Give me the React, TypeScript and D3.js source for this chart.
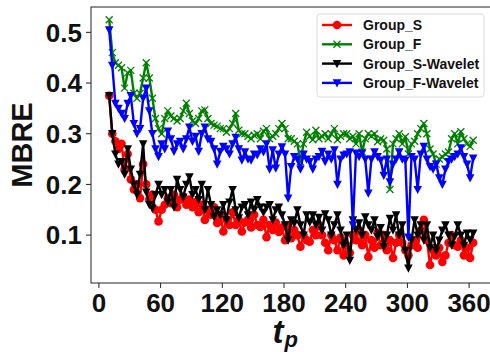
import * as d3 from 'd3';

// sampling grid of t_p (every 3 steps from 10)
const tp = d3.range(10, 365, 3);

const groupS = [
  0.375, 0.30, 0.285, 0.27, 0.28, 0.23, 0.26, 0.21, 0.19, 0.20,
  0.173, 0.24, 0.20, 0.17, 0.18, 0.15, 0.127, 0.15, 0.16, 0.173,
  0.163, 0.18, 0.155, 0.17, 0.175, 0.16, 0.17, 0.155, 0.165, 0.145,
  0.16, 0.13, 0.15, 0.14, 0.155, 0.124, 0.14, 0.107, 0.13, 0.12,
  0.145, 0.12, 0.13, 0.107, 0.125, 0.13, 0.115, 0.14, 0.12, 0.116,
  0.13, 0.096, 0.12, 0.11, 0.125, 0.106, 0.115, 0.09, 0.12, 0.094,
  0.11, 0.10, 0.077, 0.10, 0.09, 0.087, 0.11, 0.10, 0.12, 0.10,
  0.085, 0.07, 0.10, 0.09, 0.07, 0.095, 0.06, 0.08, 0.065, 0.10,
  0.09, 0.11, 0.08, 0.10, 0.057, 0.09, 0.075, 0.105, 0.08, 0.10,
  0.07, 0.09, 0.055, 0.085, 0.10, 0.085, 0.07, 0.06, 0.08, 0.09,
  0.075, 0.11, 0.13, 0.09, 0.041, 0.07, 0.06, 0.075, 0.047, 0.06,
  0.085, 0.10, 0.08, 0.077, 0.09, 0.06, 0.075, 0.055, 0.085,
];

const groupF = [
  0.525, 0.46, 0.44, 0.435, 0.43, 0.39, 0.42, 0.425, 0.38, 0.37,
  0.38, 0.41, 0.44, 0.41, 0.37, 0.33, 0.31, 0.30, 0.33, 0.345,
  0.335, 0.33, 0.325, 0.33, 0.345, 0.36, 0.34, 0.325, 0.32, 0.33,
  0.345, 0.347, 0.33, 0.32, 0.317, 0.315, 0.31, 0.31, 0.303, 0.31,
  0.32, 0.34, 0.307, 0.30, 0.30, 0.295, 0.29, 0.297, 0.30, 0.29,
  0.305, 0.31, 0.29, 0.295, 0.30, 0.31, 0.32, 0.31, 0.29, 0.29,
  0.285, 0.28, 0.245, 0.28, 0.303, 0.295, 0.288, 0.307, 0.29, 0.295,
  0.30, 0.29, 0.30, 0.31, 0.288, 0.295, 0.30, 0.30, 0.29, 0.295,
  0.28, 0.30, 0.264, 0.29, 0.30, 0.295, 0.30, 0.284, 0.29, 0.287,
  0.27, 0.19, 0.28, 0.29, 0.30, 0.28, 0.294, 0.26, 0.28, 0.285,
  0.30, 0.31, 0.32, 0.30, 0.27, 0.26, 0.24, 0.25, 0.254, 0.26,
  0.264, 0.29, 0.30, 0.28, 0.304, 0.29, 0.28, 0.275, 0.287,
];

const groupSWavelet = [
  0.375, 0.30, 0.26, 0.24, 0.245, 0.22, 0.27, 0.23, 0.20, 0.18,
  0.22, 0.28, 0.185, 0.16, 0.153, 0.18, 0.20, 0.18, 0.19, 0.165,
  0.19, 0.155, 0.21, 0.19, 0.175, 0.20, 0.215, 0.18, 0.19, 0.17,
  0.20, 0.15, 0.19, 0.16, 0.136, 0.15, 0.14, 0.16, 0.13, 0.165,
  0.19, 0.15, 0.134, 0.155, 0.16, 0.14, 0.165, 0.15, 0.17, 0.155,
  0.145, 0.155, 0.16, 0.13, 0.15, 0.155, 0.14, 0.12, 0.09, 0.13,
  0.123, 0.15, 0.12, 0.10, 0.14, 0.125, 0.14, 0.12, 0.135, 0.11,
  0.142, 0.13, 0.10, 0.12, 0.14, 0.11, 0.08, 0.10, 0.05, 0.13,
  0.11, 0.124, 0.10, 0.136, 0.12, 0.11, 0.13, 0.097, 0.115, 0.077,
  0.10, 0.133, 0.11, 0.14, 0.10, 0.12, 0.07, 0.035, 0.09, 0.13,
  0.10, 0.12, 0.09, 0.12, 0.075, 0.10, 0.07, 0.09, 0.11, 0.12,
  0.10, 0.08, 0.097, 0.12, 0.10, 0.08, 0.104, 0.09, 0.104,
];

const groupFWavelet = [
  0.505, 0.435, 0.36, 0.35, 0.34, 0.33, 0.36, 0.375, 0.32, 0.30,
  0.31, 0.37, 0.39, 0.345, 0.30, 0.27, 0.255, 0.28, 0.27, 0.305,
  0.29, 0.265, 0.28, 0.285, 0.27, 0.29, 0.313, 0.285, 0.295, 0.265,
  0.30, 0.313, 0.29, 0.285, 0.27, 0.24, 0.265, 0.275, 0.27, 0.26,
  0.28, 0.293, 0.27, 0.248, 0.264, 0.25, 0.248, 0.26, 0.258, 0.27,
  0.264, 0.28, 0.23, 0.268, 0.232, 0.26, 0.274, 0.26, 0.173, 0.235,
  0.255, 0.25, 0.23, 0.26, 0.25, 0.245, 0.23, 0.25, 0.255, 0.265,
  0.245, 0.26, 0.25, 0.268, 0.20, 0.25, 0.258, 0.26, 0.264, 0.12,
  0.262, 0.255, 0.262, 0.25, 0.183, 0.25, 0.264, 0.255, 0.248, 0.218,
  0.25, 0.205, 0.24, 0.25, 0.264, 0.25, 0.248, 0.096, 0.255, 0.25,
  0.19, 0.26, 0.275, 0.25, 0.235, 0.23, 0.24, 0.213, 0.20, 0.23,
  0.245, 0.25, 0.255, 0.26, 0.272, 0.255, 0.24, 0.213, 0.252,
];

const xTicks = [0, 60, 120, 180, 240, 300, 360];
const yTicks = [0.1, 0.2, 0.3, 0.4, 0.5];

const series = [
  { name: 'Group_S', values: groupS, color: 'red', marker: 'circle' },
  { name: 'Group_F', values: groupF, color: 'green', marker: 'x' },
  { name: 'Group_S-Wavelet', values: groupSWavelet, color: 'black', marker: 'tri' },
  { name: 'Group_F-Wavelet', values: groupFWavelet, color: 'blue', marker: 'tri' },
];

const W = 490;
const H = 352;
const left = 91;
const right = 491.4;
const top = 7;
const bottom = 283;
const font = 'Liberation Sans, Arial, sans-serif';

function Marker({ type, x, y, color }: { type: string; x: number; y: number; color: string }) {
  if (type === 'circle') return <circle cx={x} cy={y} r={4.3} fill={color} />;
  if (type === 'x')
    return (
      <path
        d={`M${x - 3.5},${y - 3.5}L${x + 3.5},${y + 3.5}M${x - 3.5},${y + 3.5}L${x + 3.5},${y - 3.5}`}
        stroke={color}
        strokeWidth={1.3}
        fill="none"
      />
    );
  return <path d={`M${x - 4.3},${y - 3.6}L${x + 4.3},${y - 3.6}L${x},${y + 4.6}Z`} fill={color} />;
}

export default function App() {
  const x = d3.scaleLinear().domain([-7.7, 381.7]).range([left, right]);
  const y = d3.scaleLinear().domain([0.0055, 0.55]).range([bottom, top]);
  const line = d3
    .line<number>()
    .x((_, i) => x(tp[i]))
    .y((d) => y(d));

  const legendX = 317;
  const legendY = 14;

  return (
    <svg
      width={W}
      height={H}
      style={{ position: 'absolute', left: 0, top: 0, background: '#fff' }}
      fontFamily={font}
    >
      <rect x={0} y={0} width={W} height={H} fill="#fff" />
      {series.map((s) => (
        <g key={s.name}>
          <path d={line(s.values) || ''} fill="none" stroke={s.color} strokeWidth={2.4} strokeLinejoin="round" />
          {s.values.map((v, i) => (
            <Marker key={i} type={s.marker} x={x(tp[i])} y={y(v)} color={s.color} />
          ))}
        </g>
      ))}

      {/* axes frame */}
      <rect x={left} y={top} width={right - left} height={bottom - top} fill="none" stroke="#222" strokeWidth={1} />

      {xTicks.map((t) => (
        <g key={t} transform={`translate(${x(t)},${bottom})`}>
          <line y1={0} y2={5} stroke="#222" />
          <text y={28.5} textAnchor="middle" fontSize={26} fontWeight="bold" fill="#111">
            {t}
          </text>
        </g>
      ))}
      {yTicks.map((t) => (
        <g key={t} transform={`translate(${left},${y(t)})`}>
          <line x1={0} x2={-5} stroke="#222" />
          <text x={-9} dy="0.36em" textAnchor="end" fontSize={26} fontWeight="bold" fill="#111">
            {t.toFixed(1)}
          </text>
        </g>
      ))}

      <text
        transform={`translate(32,${(top + bottom) / 2}) rotate(-90)`}
        textAnchor="middle"
        fontSize={29}
        fontWeight="bold"
        fill="#111"
      >
        MBRE
      </text>
      <text x={(left + right) / 2 - 6} y={343} textAnchor="middle" fontWeight="bold" fontStyle="italic" fill="#111">
        <tspan fontSize={33}>t</tspan>
        <tspan fontSize={22} dx={1} dy={4}>p</tspan>
      </text>

      {/* legend */}
      <rect x={legendX} y={legendY} width={167} height={83} rx={3} fill="#fff" fillOpacity={0.85} stroke="#ddd" />
      {series.map((s, i) => {
        const ly = legendY + 11 + i * 19.3;
        return (
          <g key={s.name}>
            <line x1={legendX + 5} x2={legendX + 35} y1={ly} y2={ly} stroke={s.color} strokeWidth={2.4} />
            <Marker type={s.marker} x={legendX + 20} y={ly} color={s.color} />
            <text x={legendX + 46} y={ly} dy="0.36em" fontSize={14} fontWeight="bold" fill="#111">
              {s.name}
            </text>
          </g>
        );
      })}
    </svg>
  );
}
